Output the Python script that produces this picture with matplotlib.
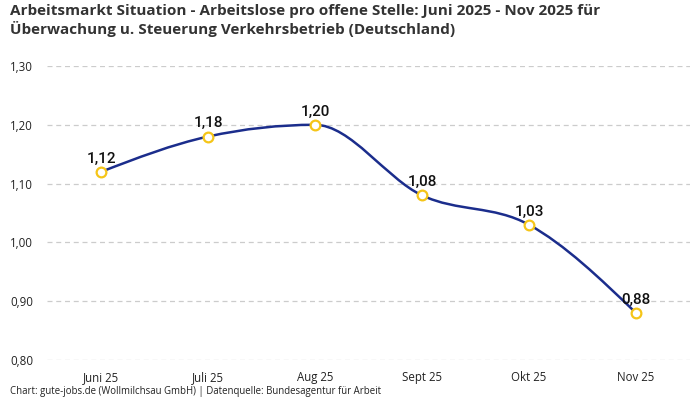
import matplotlib
matplotlib.use("Agg")
import matplotlib.pyplot as plt
from matplotlib.path import Path
from matplotlib.patches import PathPatch
import numpy as np

categories = ["Juni 25", "Juli 25", "Aug 25", "Sept 25", "Okt 25", "Nov 25"]
values = [1.12, 1.18, 1.20, 1.08, 1.03, 0.88]
yticks = [0.80, 0.90, 1.00, 1.10, 1.20, 1.30]

title = ("Arbeitsmarkt Situation - Arbeitslose pro offene Stelle: Juni 2025 - Nov 2025 für\n"
         "Überwachung u. Steuerung Verkehrsbetrieb (Deutschland)")
footer = "Chart: gute-jobs.de (Wollmilchsau GmbH) | Datenquelle: Bundesagentur für Arbeit"

LINE = "#1b2d8c"
MARK = "#f5c518"
FONT = ["Open Sans", "DejaVu Sans"]
plt.rcParams["font.family"] = FONT


def fmt(v):
    return f"{v:.2f}".replace(".", ",")


def monotone_path(xs, ys):
    xs = np.asarray(xs, float)
    ys = np.asarray(ys, float)
    n = len(xs)
    h = np.diff(xs)
    s = np.diff(ys) / h
    t = np.zeros(n)
    for i in range(1, n - 1):
        s0, s1 = s[i - 1], s[i]
        p = (s0 * h[i] + s1 * h[i - 1]) / (h[i - 1] + h[i])
        t[i] = (np.sign(s0) + np.sign(s1)) * min(abs(s0), abs(s1), 0.5 * abs(p))
    t[0] = (3 * s[0] - t[1]) / 2
    t[-1] = (3 * s[-1] - t[-2]) / 2
    verts = [(xs[0], ys[0])]
    codes = [Path.MOVETO]
    for i in range(n - 1):
        dx = (xs[i + 1] - xs[i]) / 3
        verts += [(xs[i] + dx, ys[i] + dx * t[i]),
                  (xs[i + 1] - dx, ys[i + 1] - dx * t[i + 1]),
                  (xs[i + 1], ys[i + 1])]
        codes += [Path.CURVE4] * 3
    return Path(verts, codes)


fig = plt.figure(figsize=(7, 4), dpi=100)
ax = fig.add_axes([47.5 / 700, 40 / 400, 642 / 700, 294 / 400])

x = np.arange(len(categories))
ax.set_xlim(-0.5, len(categories) - 0.5)
ax.set_ylim(yticks[0], yticks[-1])

for yt in yticks:
    ax.axhline(yt, color="#cccccc", lw=0.9, ls=(0, (4, 3)), zorder=0)

ax.add_patch(PathPatch(monotone_path(x, values), fill=False, edgecolor=LINE, lw=1.8, zorder=2))
ax.plot(x, values, ls="none", marker="o", ms=7, mfc="white", mec=MARK, mew=1.6, zorder=3)

for xi, v in zip(x, values):
    ax.annotate(fmt(v), (xi, v), xytext=(0, 4.5), textcoords="offset points",
                ha="center", va="bottom", fontsize=11, color="#111111", zorder=4,
                family=["Roboto", "DejaVu Sans"], fontweight="medium")

ax.set_xticks(x)
ax.set_xticklabels(categories)
ax.set_yticks(yticks)
ax.set_yticklabels([fmt(v) for v in yticks])
ax.tick_params(axis="both", length=0, labelsize=8.3, colors="#222222")
ax.tick_params(axis="x", pad=8)
ax.tick_params(axis="y", pad=10.5)
for sp in ax.spines.values():
    sp.set_visible(False)

fig.text(10 / 700, 1 - 4 / 400, title, ha="left", va="top", fontsize=11.0,
         fontweight="bold", color="#333333", linespacing=1.2)
fig.text(10 / 700, 3 / 400, footer, ha="left", va="bottom", fontsize=6.9, color="#222222")

fig.savefig("out.png", dpi=100)
